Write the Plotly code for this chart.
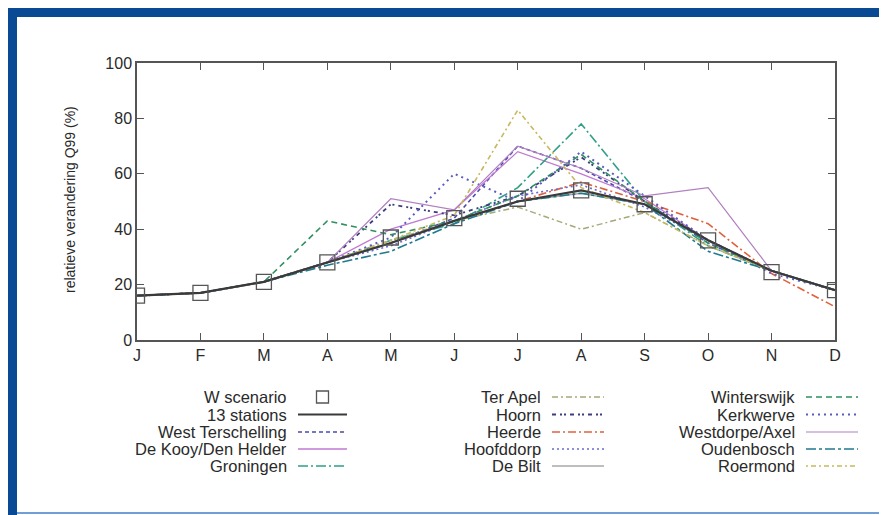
import plotly.graph_objects as go

months = ["J", "F", "M", "A", "M", "J", "J", "A", "S", "O", "N", "D"]
x_idx = list(range(12))

w_scenario = [16, 17, 21, 28, 37, 44, 51, 54, 49, 36, 24.5, 18]
stations13 = [16, 17, 21, 28, 35, 43, 50, 54, 49, 36, 25, 18]
west_terschelling = [16, 17, 21, 28, 35, 44, 70, 62, 50, 35, 25, 18]
de_kooy = [16, 17, 21, 28, 40, 47, 68, 60, 51, 36, 25, 18]
groningen = [16, 17, 21, 28, 36, 42, 55, 78, 50, 34, 25, 18]
ter_apel = [16, 17, 21, 28, 36, 43, 48, 40, 46, 34, 25, 18]
hoorn = [16, 17, 21, 28, 49, 45, 52, 66, 50, 36, 25, 18]
heerde = [16, 17, 21, 28, 35, 43, 50, 57, 50, 42, 24, 12]
hoofddorp = [16, 17, 21, 28, 34, 43, 52, 56, 48, 36, 25, 18]
de_bilt = [16, 17, 21, 28, 35, 43, 50, 53, 49, 36, 25, 18]
winterswijk = [16, 17, 21, 43, 38, 43, 52, 67, 50, 35, 25, 18]
kerkwerve = [16, 17, 21, 28, 37, 60, 50, 68, 52, 36, 24, 18]
westdorpe = [16, 17, 21, 28, 51, 47, 70, 62, 52, 55, 25, 18]
oudenbosch = [16, 17, 21, 27, 32, 42, 50, 53, 49, 32, 25, 18]
roermond = [16, 17, 21, 28, 36, 45, 83, 55, 46, 34, 25, 18]

y_ticks = [0, 20, 40, 60, 80, 100]

series = [
    ("West Terschelling", west_terschelling, "#4a4ab0", "4px,3px", 1.6),
    ("De Kooy/Den Helder", de_kooy, "#c07ad0", "solid", 1.3),
    ("Groningen", groningen, "#2f9f86", "10px,3px,2px,3px", 1.6),
    ("Ter Apel", ter_apel, "#a8a878", "6px,3px,2px,3px", 1.5),
    ("Hoorn", hoorn, "#3c3c7c", "4px,4px,2px,2px,2px,4px", 1.8),
    ("Heerde", heerde, "#e0603c", "8px,3px,2px,3px", 1.6),
    ("Hoofddorp", hoofddorp, "#6a6ad0", "2px,3px", 1.6),
    ("De Bilt", de_bilt, "#a8a8a8", "solid", 1.5),
    ("Winterswijk", winterswijk, "#2f9060", "6px,4px", 1.6),
    ("Kerkwerve", kerkwerve, "#5a5ac0", "2px,4px", 2.0),
    ("Westdorpe/Axel", westdorpe, "#b080c0", "solid", 1.2),
    ("Oudenbosch", oudenbosch, "#1f7a90", "10px,3px,3px,3px", 1.6),
    ("Roermond", roermond, "#c8b860", "2px,3px,5px,3px", 1.6),
]

fig = go.Figure()
for name, vals, col, dash, w in series:
    fig.add_trace(go.Scatter(x=x_idx, y=vals, mode="lines", name=name,
                             line=dict(color=col, dash=dash, width=w),
                             showlegend=False))
fig.add_trace(go.Scatter(x=x_idx, y=stations13, mode="lines", name="13 stations",
                         line=dict(color="#3a3a3a", width=2.2), showlegend=False))
fig.add_trace(go.Scatter(x=x_idx, y=w_scenario, mode="markers", name="W scenario",
                         marker=dict(symbol="square-open", size=15, color="#555555",
                                     line=dict(color="#555555", width=1.3)),
                         showlegend=False))

# page has an 8px body margin: work in window pixels, then shift
OFF = 8
W, H = 887 - OFF, 515 - OFF
L, R, T, B = 137 - OFF, 835 - OFF, 63 - OFF, 340 - OFF


def px(xp):
    return (xp - OFF - L) / (R - L)


def py(yp):
    return (B - (yp - OFF)) / (B - T)


shapes = []
annotations = []

# frame decoration
blue = "#0a4a94"
shapes.append(dict(type="rect", xref="paper", yref="paper", x0=px(6), x1=px(895),
                   y0=py(17), y1=py(6), fillcolor=blue, line=dict(width=0), layer="above"))
shapes.append(dict(type="rect", xref="paper", yref="paper", x0=px(6), x1=px(17),
                   y0=py(525), y1=py(6), fillcolor=blue, line=dict(width=0), layer="above"))
shapes.append(dict(type="line", xref="paper", yref="paper", x0=px(17), x1=px(895),
                   y0=py(513), y1=py(513), line=dict(color="#6f9fd6", width=2), layer="above"))

# legend (manual, gnuplot style: text right, sample left)
legend_cols = [
    (287, 298, 347, [("W scenario", None), ("13 stations", ("#3a3a3a", "solid", 2.2)),
                     ("West Terschelling", series[0]), ("De Kooy/Den Helder", series[1]),
                     ("Groningen", series[2])]),
    (541, 552, 604, [("Ter Apel", series[3]), ("Hoorn", series[4]), ("Heerde", series[5]),
                     ("Hoofddorp", series[6]), ("De Bilt", series[7])]),
    (795, 806, 858, [("Winterswijk", series[8]), ("Kerkwerve", series[9]),
                     ("Westdorpe/Axel", series[10]), ("Oudenbosch", series[11]),
                     ("Roermond", series[12])]),
]
row_y = [397, 414.5, 432, 449, 466]
for tx, sx0, sx1, items in legend_cols:
    for (label, st), ry in zip(items, row_y):
        annotations.append(dict(xref="paper", yref="paper", x=px(tx), y=py(ry),
                                text=label, showarrow=False, xanchor="right",
                                yanchor="middle", xshift=2,
                                font=dict(family="Liberation Sans, Arial", size=16.5,
                                          color="#2a2a2a")))
        if st is None:
            cx = (sx0 + sx1) / 2
            shapes.append(dict(type="rect", xref="paper", yref="paper",
                               x0=px(cx - 6), x1=px(cx + 6), y0=py(ry + 6), y1=py(ry - 6),
                               line=dict(color="#555555", width=1.3)))
        else:
            if len(st) == 3:
                col, dash, w = st
            else:
                _, _, col, dash, w = st
            shapes.append(dict(type="line", xref="paper", yref="paper",
                               x0=px(sx0), x1=px(sx1), y0=py(ry), y1=py(ry),
                               line=dict(color=col, dash=dash, width=w)))

annotations.append(dict(xref="paper", yref="paper", x=px(70), y=py(200),
                        text="relatieve verandering Q99 (%)", textangle=-90,
                        showarrow=False, xanchor="center", yanchor="middle",
                        font=dict(family="Liberation Sans, Arial", size=14, color="#2a2a2a")))

axis_font = dict(family="Liberation Sans, Arial", size=16, color="#2a2a2a")
fig.update_layout(
    width=W, height=H,
    margin=dict(l=L, r=W - R, t=T, b=H - B),
    paper_bgcolor="white", plot_bgcolor="white",
    showlegend=False,
    shapes=shapes, annotations=annotations,
    xaxis=dict(range=[0, 11], tickmode="array", tickvals=x_idx, ticktext=months,
               ticks="inside", ticklen=7, tickcolor="#555", showgrid=False,
               zeroline=False, showline=True, linecolor="#555", linewidth=1.5,
               mirror="ticks", tickfont=axis_font),
    yaxis=dict(range=[0, 100], tickmode="array", tickvals=y_ticks,
               ticks="inside", ticklen=7, tickcolor="#555", showgrid=False,
               zeroline=False, showline=True, linecolor="#555", linewidth=1.5,
               mirror="ticks", tickfont=axis_font),
)

fig.write_html("out.html")
